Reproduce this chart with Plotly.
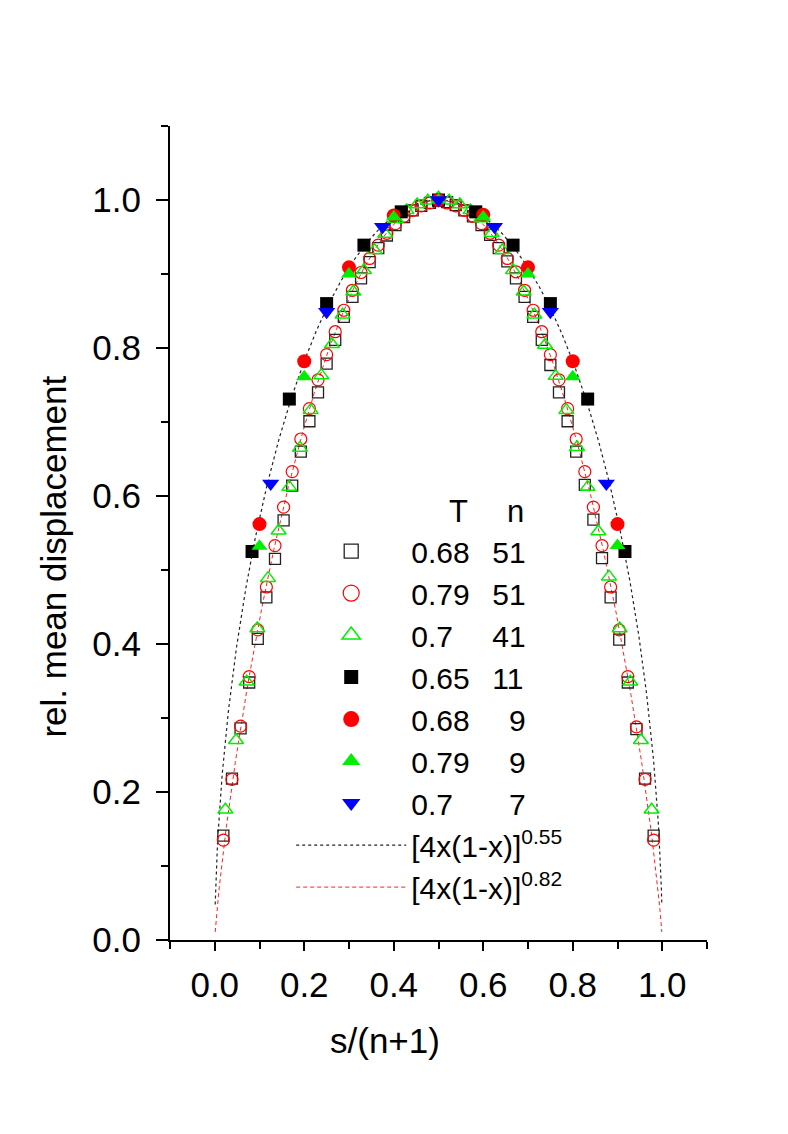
import numpy as np
import plotly.graph_objects as go

# s/(n+1) positions come from the chain index s = 1..n
n51 = 51
n41 = 41
n11 = 11
n9 = 9
n7 = 7

# T=0.68, n=51 (open squares)
sq_open = [0.141, 0.218, 0.286, 0.348, 0.407, 0.463, 0.515, 0.567, 0.614, 0.660,
           0.701, 0.740, 0.779, 0.811, 0.842, 0.869, 0.894, 0.916, 0.935, 0.952,
           0.966, 0.977, 0.986, 0.992, 0.996, 0.999, 0.997, 0.993, 0.986, 0.978,
           0.966, 0.953, 0.935, 0.917, 0.894, 0.869, 0.842, 0.811, 0.777, 0.740,
           0.701, 0.660, 0.615, 0.568, 0.516, 0.463, 0.406, 0.348, 0.285, 0.218,
           0.141]
# T=0.79, n=51 (open circles)
circ_open = [0.135, 0.217, 0.289, 0.356, 0.419, 0.477, 0.533, 0.585, 0.633, 0.677,
             0.718, 0.757, 0.791, 0.822, 0.851, 0.878, 0.902, 0.921, 0.939, 0.955,
             0.968, 0.978, 0.986, 0.992, 0.996, 0.999, 0.996, 0.992, 0.986, 0.978,
             0.968, 0.955, 0.939, 0.921, 0.903, 0.878, 0.851, 0.822, 0.791, 0.757,
             0.718, 0.677, 0.633, 0.585, 0.533, 0.477, 0.419, 0.356, 0.288, 0.217,
             0.135]
# T=0.7, n=41 (open triangles)
tri_open = [0.176, 0.270, 0.349, 0.421, 0.489, 0.553, 0.612, 0.665, 0.716, 0.763,
            0.805, 0.845, 0.876, 0.905, 0.932, 0.954, 0.974, 0.986, 0.994, 0.999,
            1.003, 0.999, 0.994, 0.986, 0.975, 0.955, 0.932, 0.905, 0.876, 0.845,
            0.804, 0.762, 0.716, 0.666, 0.612, 0.552, 0.491, 0.421, 0.349, 0.270,
            0.176]
# T=0.65, n=11 (filled squares)
sq_fill = [0.525, 0.731, 0.860, 0.939, 0.984, 1.0, 0.984, 0.939, 0.860, 0.731, 0.525]
# T=0.68, n=9 (filled circles)
circ_fill = [0.562, 0.782, 0.909, 0.979, 1.0, 0.980, 0.909, 0.782, 0.562]
# T=0.79, n=9 (filled triangles)
tri_fill = [0.532, 0.761, 0.900, 0.977, 1.0, 0.977, 0.900, 0.761, 0.533]
# T=0.7, n=7 (blue down triangles)
tri_down = [0.617, 0.849, 0.964, 1.0, 0.964, 0.849, 0.617]

# fit curves [4x(1-x)]^a
fit_exp = [0.55, 0.82]

SP = "\u00a0\u00a0\u2009"
FIG = "\u2007"
legend_names = [
    "0.68" + SP + "51",
    "0.79" + SP + "51",
    "0.7" + FIG + SP + "41",
    "0.65" + SP + "11",
    "0.68" + SP + FIG + "9",
    "0.79" + SP + FIG + "9",
    "0.7" + FIG + SP + FIG + "7",
]


def xs(n):
    s = np.arange(1, n + 1)
    return s / (n + 1)


FONT = "Liberation Sans, Arial, Helvetica, sans-serif"

series = [
    (n51, sq_open, dict(symbol="square-open", size=11, color="#222222", line=dict(width=1.3)), 14),
    (n51, circ_open, dict(symbol="circle-open", size=12, color="#ff0000", line=dict(width=1.2)), 16),
    (n41, tri_open, dict(symbol="triangle-up-open", size=13, color="#00ee00", line=dict(width=1.5)), 16),
    (n11, sq_fill, dict(symbol="square", size=13, color="#000000"), 14),
    (n9, circ_fill, dict(symbol="circle", size=14, color="#ff0000"), 16),
    (n9, tri_fill, dict(symbol="triangle-up", size=14, color="#00ee00"), 16),
    (n7, tri_down, dict(symbol="triangle-down", size=15, color="#0000ff"), 16),
]

fig = go.Figure()

xf = np.linspace(0.001, 0.999, 999)
fig.add_trace(go.Scatter(x=xf, y=(4 * xf * (1 - xf)) ** fit_exp[0], mode="lines",
                         line=dict(color="#222222", width=1.2, dash="dot"),
                         showlegend=False, hoverinfo="skip"))
fig.add_trace(go.Scatter(x=xf, y=(4 * xf * (1 - xf)) ** fit_exp[1], mode="lines",
                         line=dict(color="#ff2020", width=1, dash="4px,3px"),
                         showlegend=False, hoverinfo="skip"))

for (n, vals, mk, lsize), name in zip(series, legend_names):
    fig.add_trace(go.Scatter(x=xs(n), y=vals, mode="markers", marker=mk,
                             name=name, showlegend=False))

# legend entries (bigger keys, like the original)
for (n, vals, mk, lsize), name in zip(series, legend_names):
    mk2 = dict(mk)
    mk2["size"] = lsize
    fig.add_trace(go.Scatter(x=[None], y=[None], mode="markers", marker=mk2, name=name))
fig.add_trace(go.Scatter(x=[None], y=[None], mode="lines",
                         line=dict(color="#222222", width=1.2, dash="dot"),
                         name="[4x(1-x)]<sup>0.55</sup>"))
fig.add_trace(go.Scatter(x=[None], y=[None], mode="lines",
                         line=dict(color="#ff2020", width=1, dash="4px,3px"),
                         name="[4x(1-x)]<sup>0.82</sup>"))

axis_common = dict(
    showgrid=False, zeroline=False, showline=True, linecolor="black", linewidth=2,
    ticks="outside", tickcolor="black", tickwidth=2,
    tickformat=".1f", tickfont=dict(family=FONT, size=35, color="black"),
    mirror=False,
)

fig.update_xaxes(range=[-0.1, 1.1], tick0=0, dtick=0.2, ticklen=9,
                 minor=dict(dtick=0.1, ticks="outside", ticklen=7, tickwidth=2, tickcolor="black"),
                 ticklabelstandoff=4, **axis_common)
fig.update_yaxes(range=[0, 1.1], tick0=0, dtick=0.2, ticklen=12,
                 minor=dict(dtick=0.1, ticks="outside", ticklen=7, tickwidth=2, tickcolor="black"),
                 ticklabelstandoff=8, **axis_common)

fig.add_annotation(text="s/(n+1)", x=0.381, xref="x", y=-0.123, yref="paper",
                   xanchor="center", yanchor="middle",
                   showarrow=False, font=dict(family=FONT, size=35, color="black"))
fig.add_annotation(text="rel. mean displacement", x=-0.2186, xref="paper", y=0.4705, yref="paper",
                   xanchor="center", yanchor="middle",
                   textangle=-90, showarrow=False, font=dict(family=FONT, size=35, color="black"))
fig.add_annotation(text="T", x=0.537, xref="paper", y=0.526, yref="paper",
                   xanchor="center", yanchor="middle",
                   showarrow=False, font=dict(family=FONT, size=31, color="black"))
fig.add_annotation(text="n", x=0.643, xref="paper", y=0.526, yref="paper",
                   xanchor="center", yanchor="middle",
                   showarrow=False, font=dict(family=FONT, size=31, color="black"))

fig.update_layout(
    width=788, height=1134,
    margin=dict(l=162, r=89, t=118, b=202),
    plot_bgcolor="white", paper_bgcolor="white",
    font=dict(family=FONT, size=32, color="black"),
    legend=dict(x=0.2257, xanchor="left", y=0.5097, yanchor="top",
                bgcolor="rgba(0,0,0,0)", itemwidth=110,
                font=dict(family=FONT, size=30, color="black"),
                tracegroupgap=0),
)

fig.write_html("out.html")
